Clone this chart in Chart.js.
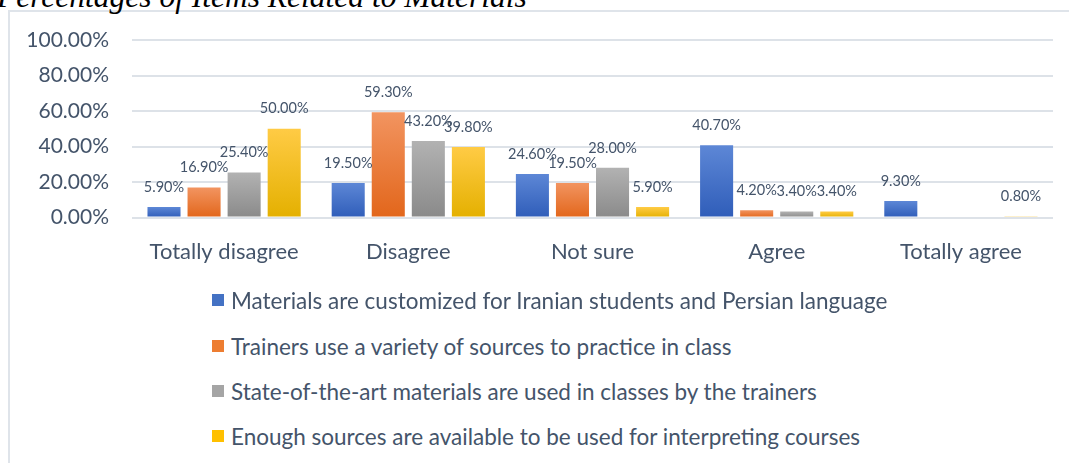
<!DOCTYPE html>
<html>
<head>
<meta charset="utf-8">
<script src="https://cdn.jsdelivr.net/npm/chart.js@4.4.1/dist/chart.umd.min.js"></script>
<style>
  html, body { margin: 0; padding: 0; background: #ffffff; }
  body { width: 1069px; height: 463px; position: relative; overflow: hidden; }
  #frame { position: absolute; left: 8px; top: 10px; width: 1100px; height: 500px;
           border-left: 2px solid #dfe4ea; border-top: 2px solid #dfe4ea; box-sizing: border-box; }
  #title { position: absolute; left: -3px; top: -19px; font-family: "Liberation Serif", "Times New Roman", serif;
           font-style: italic; font-size: 31.5px; line-height: 31.5px; color: #000; white-space: nowrap; }
  #wrap { position: absolute; left: 0; top: 0; width: 1069px; height: 302px; }
  #legend { position: absolute; left: 212px; top: 0; }
  .lg { position: absolute; left: 0; white-space: nowrap; font-family: Lato, "Open Sans", sans-serif;
        font-size: 22.5px; color: #44546a; display: flex; align-items: center; height: 26px; }
  .lg span.box { display: inline-block; width: 12px; height: 12px; margin-right: 7px; }
</style>
</head>
<body>
<div id="frame"></div>
<div id="title">Percentages of Items Related to Materials</div>
<div id="wrap"><canvas id="c" width="1069" height="302"></canvas></div>
<div id="legend"></div>
<script>
const categories = ["Totally disagree", "Disagree", "Not sure", "Agree", "Totally agree"];
const seriesNames = [
  "Materials are customized for Iranian students and Persian language",
  "Trainers use a variety of sources to practice in class",
  "State-of-the-art materials are used in classes by the trainers",
  "Enough sources are available to be used for interpreting courses"
];
const materialsCustomized = [5.9, 19.5, 24.6, 40.7, 9.3];
const varietyOfSources    = [16.9, 59.3, 19.5, 4.2, null];
const stateOfTheArt       = [25.4, 43.2, 28.0, 3.4, null];
const enoughSources       = [50.0, 39.8, 5.9, 3.4, 0.8];
const yTicks = [0, 20, 40, 60, 80, 100];

const palette = [
  { top: "#5d87d6", bottom: "#2f5db9", solid: "#4472c4" },
  { top: "#f29460", bottom: "#e2661b", solid: "#ed7d31" },
  { top: "#b2b2b2", bottom: "#8a8a8a", solid: "#a5a5a5" },
  { top: "#ffcb45", bottom: "#e4b000", solid: "#ffc000" }
];

function gradFor(idx) {
  return function(ctx) {
    const chart = ctx.chart;
    if (!chart.chartArea || ctx.raw == null) return palette[idx].solid;
    const y = chart.scales.y;
    const top = y.getPixelForValue(ctx.raw);
    const base = y.getPixelForValue(0);
    if (Math.abs(base - top) < 1) return palette[idx].top;
    const g = chart.ctx.createLinearGradient(0, top, 0, base);
    g.addColorStop(0, palette[idx].top);
    g.addColorStop(1, palette[idx].bottom);
    return g;
  };
}

const seriesData = [materialsCustomized, varietyOfSources, stateOfTheArt, enoughSources];
const TEXT = "#44546a";
const FONT = "Lato";

const valueLabels = {
  id: "valueLabels",
  afterDatasetsDraw(chart) {
    const ctx = chart.ctx;
    ctx.save();
    ctx.font = "14.5px " + FONT;
    ctx.fillStyle = TEXT;
    ctx.textAlign = "center";
    ctx.textBaseline = "middle";
    chart.data.datasets.forEach((ds, di) => {
      const meta = chart.getDatasetMeta(di);
      meta.data.forEach((el, i) => {
        const v = ds.data[i];
        if (v == null) return;
        ctx.fillText(v.toFixed(2) + "%", el.x, el.y - 20);
      });
    });
    ctx.restore();
  }
};

const chart = new Chart(document.getElementById("c"), {
  type: "bar",
  data: {
    labels: categories,
    datasets: seriesData.map((d, i) => ({
      label: seriesNames[i],
      data: d,
      backgroundColor: gradFor(i),
      borderWidth: 0,
      categoryPercentage: 0.87,
      barPercentage: 0.825
    }))
  },
  options: {
    responsive: false,
    animation: false,
    layout: { padding: { left: 0, right: 16, top: 40, bottom: 16 } },
    plugins: { legend: { display: false }, tooltip: { enabled: false }, title: { display: false } },
    scales: {
      x: {
        grid: { display: false, drawTicks: false },
        border: { display: false },
        ticks: { color: TEXT, font: { family: FONT, size: 22 }, padding: 21 }
      },
      y: {
        min: 0, max: 100,
        afterBuildTicks(scale) { scale.ticks = yTicks.map(v => ({ value: v })); },
        afterFit(scale) { scale.width = 132; },
        grid: { color: "#dde2e8", lineWidth: 2, drawTicks: false },
        border: { display: false },
        ticks: { color: TEXT, font: { family: FONT, size: 21 }, padding: 23,
                 callback: v => v.toFixed(2) + "%" }
      }
    }
  },
  plugins: [valueLabels]
});

// HTML legend built from the chart's own legend items
const legendEl = document.getElementById("legend");
const items = Chart.defaults.plugins.legend.labels.generateLabels(chart);
const rowCenters = [300, 346, 391, 436];
items.forEach((it, i) => {
  const row = document.createElement("div");
  row.className = "lg";
  row.style.top = (rowCenters[i] - 13) + "px";
  const box = document.createElement("span");
  box.className = "box";
  box.style.background = palette[it.datasetIndex].solid;
  row.appendChild(box);
  row.appendChild(document.createTextNode(it.text));
  legendEl.appendChild(row);
});
</script>
</body>
</html>
